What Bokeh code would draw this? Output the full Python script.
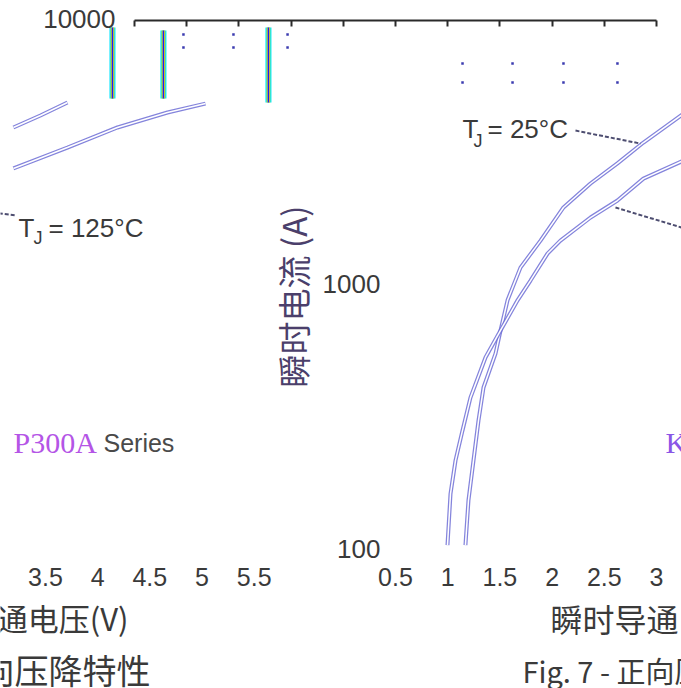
from bokeh.plotting import figure
from bokeh.models import (Range1d, LinearAxis, FixedTicker, ColumnDataSource,
                          LabelSet, Label, LogScale)
from bokeh.core.properties import value
from bokeh.embed import file_html
from bokeh.resources import INLINE
import math

# ---------------- data ----------------
fig7_ticks = [0.5, 1, 1.5, 2, 2.5, 3]
fig7_tick_labels = ["0.5", "1", "1.5", "2", "2.5", "3"]
fig6_ticks = [3.5, 4, 4.5, 5, 5.5]
fig6_tick_labels = ["3.5", "4", "4.5", "5", "5.5"]
top_ticks = [-2, -1.5, -1, -0.5, 0, 0.5, 1, 1.5, 2, 2.5, 3]
y_ticks = [100, 1000, 10000]
y_tick_labels = ["100", "1000", "10000"]

# Fig.7 forward characteristic, TJ = 25 C (V, A)
v25 = [1.17, 1.199, 1.247, 1.295, 1.343, 1.458, 1.506, 1.573, 1.697, 1.889,
       2.109, 2.368, 2.626, 2.875, 3.25]
i25 = [103, 152, 215, 304, 405, 544, 665, 864, 1148, 1452,
       1936, 2384, 2840, 3404, 4350]
# Fig.7 forward characteristic, TJ = 125 C
v125 = [0.998, 1.027, 1.075, 1.142, 1.218, 1.362, 1.506, 1.669, 1.793, 1.956,
        2.08, 2.368, 2.626, 2.875, 3.25]
i125 = [103, 161, 215, 279, 371, 526, 665, 864, 1026, 1297,
        1452, 1774, 2056, 2488, 2900]
# Fig.6 remnants (upper and lower curve ends)
fig6_va = [3.193, 3.452, 3.711]
fig6_ia = [3880, 4305, 4820]
fig6_vb = [3.193, 3.711, 4.19, 4.669, 5.033]
fig6_ib = [2717, 3258, 3880, 4418, 4775]
# vertical coloured bars (Fig.6 coordinates)
bar_v = [4.142, 4.630, 5.636]
bar_top = [9249, 9010, 9249]
bar_bot = [4990, 4990, 4822]
# dotted grid remnants
grid_dot_x = [-1.531, -1.052, -0.534, -1.531, -1.052, -0.534,
              1.142, 1.621, 2.109, 2.626, 1.142, 1.621, 2.109, 2.626]
grid_dot_y = [8700, 8700, 8700, 7775, 7775, 7775,
              6761, 6761, 6761, 6761, 5735, 5735, 5735, 5735]

# ---------------- layout constants ----------------
X_START, X_END = -3.2835, 3.2395
FIG6_SHIFT = 6.353
Y_START, Y_END = 29.63, 11693
TOP_AXIS_Y = 9828
BOTTOM_AXIS_Y = 84.8
TXT = "#3a3a3a"

p = figure(width=681, height=688,
           x_range=Range1d(X_START, X_END), y_range=Range1d(Y_START, Y_END),
           y_axis_type="log", y_axis_location=None,
           output_backend="svg", toolbar_location=None,
           min_border_left=0, min_border_right=0,
           min_border_top=0, min_border_bottom=0)
p.y_scale = LogScale()
p.extra_x_ranges = {"fig6": Range1d(X_START + FIG6_SHIFT, X_END + FIG6_SHIFT)}
p.outline_line_color = None
p.grid.visible = False
p.background_fill_color = "white"
p.border_fill_color = "white"

# bottom axis: both charts' labels
fig6_pos = [t - FIG6_SHIFT for t in fig6_ticks]
ax = p.xaxis[0]
ax.fixed_location = BOTTOM_AXIS_Y
ax.ticker = FixedTicker(ticks=fig6_pos + fig7_ticks)
overrides = {}
for pos, lab in zip(fig6_pos, fig6_tick_labels):
    overrides[pos] = lab
for pos, lab in zip(fig7_ticks, fig7_tick_labels):
    overrides[pos] = lab
ax.major_label_overrides = overrides
ax.axis_line_color = None
ax.major_tick_line_color = None
ax.minor_tick_line_color = None
ax.major_tick_in = 0
ax.major_tick_out = 0
ax.major_label_standoff = 1
ax.major_label_text_font = "Liberation Sans"
ax.major_label_text_font_size = "25px"
ax.major_label_text_color = TXT

# top axis line with inward ticks
top = LinearAxis(ticker=FixedTicker(ticks=top_ticks),
                 bounds=(top_ticks[0], top_ticks[-1]),
                 fixed_location=TOP_AXIS_Y,
                 major_tick_in=6, major_tick_out=0,
                 minor_tick_line_color=None,
                 axis_line_width=2, axis_line_color="#2a2a2a",
                 major_tick_line_color="#2a2a2a", major_tick_line_width=2,
                 major_label_text_color=None, major_label_text_font_size="10px",
                 major_label_standoff=0)
p.add_layout(top, "above")

# dotted grid remnants
p.scatter(grid_dot_x, grid_dot_y, marker="square", size=2.5,
          fill_color="#3b3bb0", line_color=None)

# coloured vertical bars
p.segment(x0=bar_v, y0=bar_bot, x1=bar_v, y1=bar_top, line_color="#00e5ff",
          line_width=6, x_range_name="fig6")
p.segment(x0=bar_v, y0=bar_bot, x1=bar_v, y1=bar_top, line_color="#ffe600",
          line_width=3.5, x_range_name="fig6")
p.segment(x0=bar_v, y0=bar_bot, x1=bar_v, y1=bar_top, line_color="#1a1aff",
          line_width=1.6, x_range_name="fig6")


def draw_curve(xs, ys, rng=None):
    kw = {"x_range_name": rng} if rng else {}
    p.line(xs, ys, line_color="#6e6ed6", line_width=4, line_alpha=0.85, **kw)
    p.line(xs, ys, line_color="white", line_width=1.5, **kw)


draw_curve(v25, i25)
draw_curve(v125, i125)
draw_curve(fig6_va, fig6_ia, "fig6")
draw_curve(fig6_vb, fig6_ib, "fig6")

# leader lines
LEAD = dict(line_dash="4 2", line_width=2, line_color="#4d4d70")
p.line([2.224, 2.847], [3776, 3373], **LEAD)
p.line([2.607, 3.30], [1936, 1600], **LEAD)
p.line([-3.30, -3.14], [1840, 1807], **LEAD)

# y tick labels
ylab_x = [0.356, 0.356, -2.182]
src = ColumnDataSource(dict(x=ylab_x, y=y_ticks, text=y_tick_labels))
p.add_layout(LabelSet(x="x", y="y", text="text", source=src,
                      text_align="right", text_baseline="middle",
                      text_font=value("Liberation Sans"),
                      text_font_size=value("26px"), text_color=TXT))


def lab(x, y, text, size="26px", font="Liberation Sans", color=TXT,
        align="left", angle=0):
    p.add_layout(Label(x=x, y=y, text=text, text_font=font,
                       text_font_size=size, text_color=color,
                       text_align=align, text_baseline="middle",
                       angle=angle))


# TJ labels
lab(1.142, 3845, "T")
lab(1.247, 3436, "J", size="18px")
lab(1.381, 3845, "= 25°C")
lab(-3.111, 1626, "T")
lab(-2.967, 1479, "J", size="18px")
lab(-2.824, 1626, "= 125°C")

# series labels
lab(-3.159, 251, "P300A", size="30px", font="Liberation Serif", color="#b455e6")
lab(-2.297, 251, "Series", size="25px", color="#4a4a4a")
lab(3.086, 251, "KP300A", size="30px", font="Liberation Serif", color="#8a55e6")

# y axis title (rotated)
lab(-0.477, 893, "瞬时电流 (A)", size="33px", font="Noto Sans CJK SC",
    color="#4b3f6b", align="center", angle=math.pi / 2)

# x axis titles and figure captions
lab(1.985, 54.9, "瞬时导通电压(V)", size="32px", font="Noto Sans CJK SC")
lab(-2.057, 54.9, "瞬时导通电压(V)", size="31px", font="Noto Sans CJK SC",
    align="right")
lab(1.716, 34.9, "Fig. 7 - 正向压降特性", size="29px", font="Noto Sans CJK SC")
lab(-1.847, 34.9, "Fig. 6 - 正向压降特性", size="34px", font="Noto Sans CJK SC",
    align="right")

open("out.html", "w").write(file_html(p, INLINE))
